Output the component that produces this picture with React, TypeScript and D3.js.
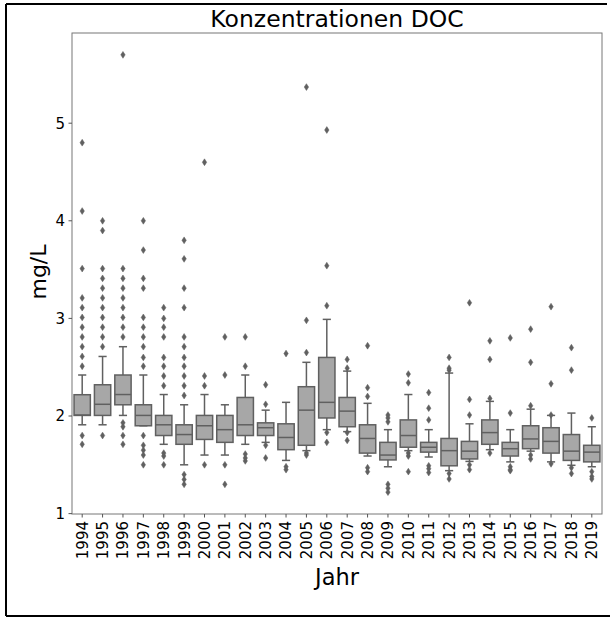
import React from "react";
import * as d3 from "d3";

const years = [
  "1994","1995","1996","1997","1998","1999","2000","2001","2002","2003","2004","2005","2006",
  "2007","2008","2009","2010","2011","2012","2013","2014","2015","2016","2017","2018","2019",
];
const q1 =     [2.006,2.006,2.115,1.90,1.80,1.71,1.76,1.73,1.80,1.80,1.655,1.70,1.98,1.89,1.62,1.55,1.68,1.63,1.49,1.56,1.71,1.59,1.665,1.62,1.545,1.53];
const medians =[2.01,2.12,2.22,2.006,1.91,1.81,1.90,1.86,1.91,1.88,1.78,2.06,2.14,2.05,1.77,1.60,1.80,1.68,1.645,1.64,1.83,1.665,1.765,1.74,1.64,1.63];
const q3 =     [2.218,2.32,2.42,2.115,2.006,1.91,2.006,2.006,2.19,1.93,1.92,2.30,2.60,2.19,1.91,1.73,1.96,1.73,1.77,1.74,1.96,1.73,1.90,1.88,1.81,1.70];
const whiskLo =[1.91,1.91,2.006,1.90,1.71,1.50,1.60,1.60,1.71,1.73,1.545,1.645,1.86,1.84,1.59,1.48,1.645,1.58,1.44,1.535,1.655,1.53,1.64,1.53,1.495,1.48];
const whiskHi =[2.42,2.61,2.71,2.42,2.22,2.115,2.22,2.115,2.42,2.06,2.14,2.55,2.99,2.46,2.13,1.86,2.22,1.86,2.44,1.92,2.15,1.86,2.07,2.006,2.03,1.89];
const outliers: number[][] = [
  [4.80,4.10,3.51,3.21,3.11,3.01,2.91,2.81,2.71,2.61,2.51,1.80,1.71],
  [4.00,3.90,3.51,3.41,3.31,3.21,3.11,3.01,2.91,2.81,2.71,1.80],
  [5.70,3.51,3.41,3.31,3.21,3.11,3.01,2.91,2.81,1.93,1.89,1.80,1.71],
  [4.00,3.70,3.41,3.31,3.01,2.91,2.81,2.71,2.60,2.51,1.80,1.70,1.65,1.60,1.50],
  [3.11,3.00,2.91,2.81,2.60,2.51,2.41,2.31,1.62,1.59,1.50],
  [3.80,3.61,3.31,3.11,2.81,2.71,2.60,2.51,2.41,2.31,2.21,1.40,1.35,1.30],
  [4.60,2.41,2.31,1.50],
  [2.81,2.42,1.50,1.30],
  [2.81,2.51,1.61,1.57,1.54],
  [2.32,2.12,1.70,1.57],
  [2.64,1.48,1.45],
  [5.37,2.98,2.65,1.62,1.60],
  [4.93,3.54,3.13,1.83,1.73],
  [2.58,2.49,1.83,1.75],
  [2.72,2.29,2.20,1.47,1.43],
  [2.01,1.98,1.94,1.30,1.26,1.22],
  [2.43,2.34,1.62,1.59,1.43],
  [2.24,2.08,1.96,1.49,1.46,1.42],
  [2.60,2.49,2.47,1.41,1.355],
  [3.16,2.17,2.01,1.50,1.45],
  [2.77,2.58,2.18,1.62],
  [2.80,2.03,1.48,1.45,1.44],
  [2.89,2.55,2.105,1.60,1.56],
  [3.12,2.33,2.01,1.51],
  [2.70,2.47,1.47,1.41],
  [1.98,1.43,1.38,1.355],
];
const yTicks = [1, 2, 3, 4, 5];

const W = 610, H = 617;
const left = 72, right = 602, top = 33, bottom = 514;
const FONT = "DejaVu Sans, sans-serif";
const FILL = "#a7a7a7";
const EDGE = "#606060";

export default function App() {
  const x = d3.scaleBand<string>().domain(years).range([left, right]).paddingInner(0).paddingOuter(0);
  const y = d3.scaleLinear().domain([0.996, 5.924]).range([bottom, top]);
  const bw = x.bandwidth() * 0.8;
  const cap = bw / 2;
  const diamond = "M0,-3.4L2.2,0L0,3.4L-2.2,0Z";

  return (
    <svg width={W} height={H} style={{ position: "absolute", left: 0, top: 0, background: "#fff" }}>
      {/* outer frame */}
      <line x1={6} y1={4} x2={607} y2={4} stroke="#000" strokeWidth={2} />
      <line x1={6} y1={4} x2={6} y2={616} stroke="#000" strokeWidth={2} />
      <line x1={6} y1={616} x2={610} y2={616} stroke="#000" strokeWidth={2} />

      <text x={(left + right) / 2} y={27} textAnchor="middle" fontFamily={FONT} fontSize={23.5} fill="#000">
        Konzentrationen DOC
      </text>

      {years.map((yr, i) => {
        const cx = (x(yr) as number) + x.bandwidth() / 2;
        return (
          <g key={yr}>
            <line x1={cx} x2={cx} y1={y(q3[i])} y2={y(whiskHi[i])} stroke={EDGE} strokeWidth={1.5} />
            <line x1={cx} x2={cx} y1={y(q1[i])} y2={y(whiskLo[i])} stroke={EDGE} strokeWidth={1.5} />
            <line x1={cx - cap / 2} x2={cx + cap / 2} y1={y(whiskHi[i])} y2={y(whiskHi[i])} stroke={EDGE} strokeWidth={1.5} />
            <line x1={cx - cap / 2} x2={cx + cap / 2} y1={y(whiskLo[i])} y2={y(whiskLo[i])} stroke={EDGE} strokeWidth={1.5} />
            <rect x={cx - bw / 2} width={bw} y={y(q3[i])} height={y(q1[i]) - y(q3[i])} fill={FILL} stroke={EDGE} strokeWidth={1.5} />
            <line x1={cx - bw / 2} x2={cx + bw / 2} y1={y(medians[i])} y2={y(medians[i])} stroke={EDGE} strokeWidth={1.5} />
            {outliers[i].map((v, j) => (
              <path key={j} d={diamond} transform={`translate(${cx},${y(v)})`} fill={EDGE} stroke={EDGE} strokeWidth={0.5} />
            ))}
          </g>
        );
      })}

      {/* spines */}
      <rect x={left} y={top} width={right - left} height={bottom - top} fill="none" stroke="#777" strokeWidth={1} />

      {/* y axis */}
      {yTicks.map((t) => (
        <g key={t}>
          <line x1={left - 3.5} x2={left} y1={y(t)} y2={y(t)} stroke="#555" strokeWidth={1} />
          <text x={left - 7} y={y(t)} dy="0.36em" textAnchor="end" fontFamily={FONT} fontSize={15} fill="#000">
            {t}
          </text>
        </g>
      ))}
      <text transform={`translate(46,272) rotate(-90)`} textAnchor="middle" fontFamily={FONT} fontSize={22} fill="#000">
        mg/L
      </text>

      {/* x axis */}
      {years.map((yr) => {
        const cx = (x(yr) as number) + x.bandwidth() / 2;
        return (
          <g key={yr}>
            <line x1={cx} x2={cx} y1={bottom} y2={bottom + 3.5} stroke="#555" strokeWidth={1} />
            <text transform={`translate(${cx},${bottom + 7}) rotate(-90)`} dy="0.36em" textAnchor="end" fontFamily={FONT} fontSize={15} fill="#000">
              {yr}
            </text>
          </g>
        );
      })}
      <text x={(left + right) / 2} y={585} textAnchor="middle" fontFamily={FONT} fontSize={22.5} fill="#000">
        Jahr
      </text>
    </svg>
  );
}
